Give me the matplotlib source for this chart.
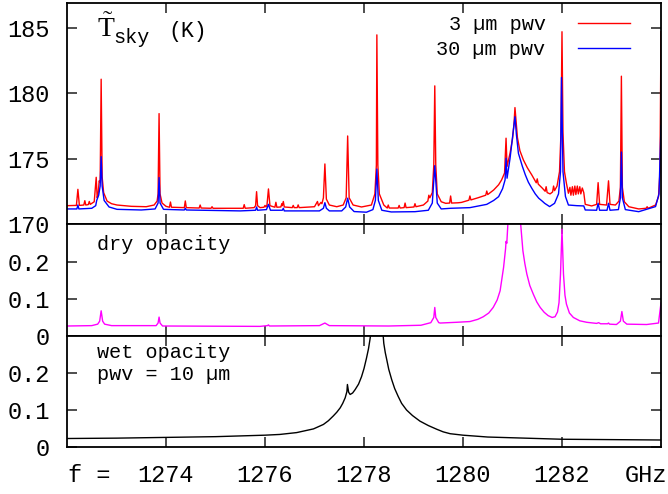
import numpy as np
from matplotlib import pyplot as plt

plt.rcParams['font.family'] = ['Liberation Mono', 'DejaVu Sans Mono']
plt.rcParams['mathtext.fontset'] = 'custom'
plt.rcParams['mathtext.rm'] = 'Liberation Serif'
plt.rcParams['mathtext.tt'] = 'Liberation Mono'

# sky brightness temperature, 3 um pwv (freq GHz, K)
sky_3um = [
    (1272.00, 171.40), (1272.19, 171.42), (1272.22, 172.65), (1272.25, 171.42),
    (1272.34, 171.45), (1272.36, 171.78), (1272.38, 171.45), (1272.43, 171.48),
    (1272.45, 171.72), (1272.47, 171.50), (1272.55, 171.70), (1272.59, 173.57),
    (1272.61, 172.00), (1272.63, 172.30), (1272.65, 173.30), (1272.67, 173.20),
    (1272.69, 181.07), (1272.71, 173.60), (1272.74, 172.40), (1272.81, 171.75),
    (1272.90, 171.55), (1273.01, 171.45), (1273.30, 171.35), (1273.60, 171.32),
    (1273.76, 171.45), (1273.82, 171.75), (1273.84, 172.30), (1273.86, 178.44),
    (1273.88, 172.30), (1273.92, 171.60), (1274.00, 171.35), (1274.07, 171.28),
    (1274.09, 171.68), (1274.11, 171.28), (1274.37, 171.25), (1274.39, 171.76),
    (1274.41, 171.25), (1274.67, 171.22), (1274.69, 171.45), (1274.71, 171.22),
    (1274.91, 171.20), (1274.93, 171.32), (1274.95, 171.20), (1275.56, 171.20),
    (1275.58, 171.48), (1275.60, 171.20), (1275.78, 171.25), (1275.81, 171.40),
    (1275.83, 172.47), (1275.85, 171.40), (1275.90, 171.25), (1275.98, 171.28),
    (1276.00, 171.42), (1276.02, 171.30), (1276.04, 171.45), (1276.07, 172.68),
    (1276.10, 171.40), (1276.20, 171.28), (1276.22, 171.66), (1276.24, 171.28),
    (1276.32, 171.30), (1276.34, 171.55), (1276.35, 171.40), (1276.37, 171.72),
    (1276.39, 171.30), (1276.55, 171.25), (1276.57, 171.42), (1276.59, 171.25),
    (1276.65, 171.25), (1276.67, 171.46), (1276.69, 171.25), (1277.00, 171.32),
    (1277.06, 171.72), (1277.08, 171.40), (1277.13, 171.65), (1277.15, 171.55),
    (1277.18, 172.00), (1277.21, 174.59), (1277.24, 171.90), (1277.30, 171.45),
    (1277.45, 171.32), (1277.58, 171.45), (1277.64, 172.00), (1277.67, 176.73),
    (1277.70, 172.00), (1277.78, 171.45), (1277.95, 171.30), (1278.15, 171.45),
    (1278.22, 172.30), (1278.25, 174.50), (1278.26, 184.46), (1278.28, 174.50),
    (1278.31, 172.30), (1278.40, 171.45), (1278.47, 171.22), (1278.49, 171.45),
    (1278.51, 171.22), (1278.69, 171.22), (1278.71, 171.42), (1278.73, 171.22),
    (1278.81, 171.25), (1278.83, 171.60), (1278.85, 171.25), (1279.01, 171.30),
    (1279.03, 171.55), (1279.05, 171.32), (1279.20, 171.45), (1279.29, 171.75),
    (1279.31, 172.20), (1279.33, 172.00), (1279.38, 172.40), (1279.41, 174.50),
    (1279.43, 180.56), (1279.45, 174.50), (1279.48, 172.30), (1279.56, 171.70),
    (1279.65, 171.58), (1279.73, 171.60), (1279.75, 172.14), (1279.77, 171.60),
    (1279.90, 171.62), (1279.97, 171.65), (1280.12, 171.82), (1280.14, 172.14),
    (1280.16, 171.84), (1280.30, 172.00), (1280.46, 172.20), (1280.48, 172.52),
    (1280.50, 172.25), (1280.62, 172.60), (1280.72, 173.00), (1280.78, 173.37),
    (1280.84, 173.90), (1280.87, 176.56), (1280.89, 174.40), (1280.95, 175.40),
    (1281.00, 176.50), (1281.03, 177.60), (1281.05, 178.90), (1281.07, 178.00),
    (1281.10, 176.60), (1281.15, 175.60), (1281.22, 174.90), (1281.30, 174.30),
    (1281.39, 173.75), (1281.48, 173.15), (1281.50, 173.45), (1281.52, 173.05),
    (1281.60, 172.75), (1281.66, 172.50), (1281.68, 172.85), (1281.70, 172.40),
    (1281.76, 172.30), (1281.81, 172.45), (1281.83, 172.90), (1281.85, 172.55),
    (1281.90, 172.90), (1281.95, 174.00), (1281.98, 177.00), (1282.00, 184.70),
    (1282.02, 177.00), (1282.05, 174.00), (1282.09, 173.10), (1282.13, 172.35),
    (1282.16, 172.80), (1282.18, 172.20), (1282.21, 172.85), (1282.23, 172.20),
    (1282.26, 172.90), (1282.28, 172.25), (1282.31, 172.90), (1282.33, 172.30),
    (1282.36, 172.85), (1282.38, 172.30), (1282.41, 172.75), (1282.44, 172.40),
    (1282.47, 171.50), (1282.60, 171.38), (1282.70, 171.50), (1282.73, 173.16),
    (1282.76, 171.50), (1282.90, 171.45), (1282.94, 173.30), (1282.97, 171.50),
    (1283.08, 171.45), (1283.15, 171.75), (1283.18, 172.80), (1283.20, 181.30),
    (1283.22, 172.80), (1283.26, 171.70), (1283.35, 171.32), (1283.55, 171.15),
    (1283.70, 171.20), (1283.72, 171.32), (1283.74, 171.20), (1283.89, 171.45),
    (1283.95, 172.09), (1283.98, 174.00), (1284.00, 184.70),
]

# sky brightness temperature, 30 um pwv
sky_30um = [
    (1272.00, 171.15), (1272.20, 171.15), (1272.22, 171.45), (1272.24, 171.15),
    (1272.50, 171.20), (1272.58, 171.40), (1272.60, 171.80), (1272.64, 172.20),
    (1272.67, 172.90), (1272.69, 175.15), (1272.71, 172.90), (1272.75, 171.80),
    (1272.85, 171.30), (1273.01, 171.12), (1273.50, 171.07), (1273.78, 171.15),
    (1273.84, 171.60), (1273.86, 173.55), (1273.88, 171.60), (1273.95, 171.12),
    (1274.37, 171.07), (1274.39, 171.20), (1274.41, 171.07), (1275.50, 171.00),
    (1275.81, 171.05), (1275.83, 171.30), (1275.85, 171.05), (1276.03, 171.10),
    (1276.07, 171.50), (1276.11, 171.05), (1276.35, 171.05), (1276.37, 171.20),
    (1276.39, 171.00), (1277.10, 171.00), (1277.18, 171.20), (1277.21, 171.63),
    (1277.24, 171.20), (1277.30, 171.00), (1277.55, 171.00), (1277.63, 171.30),
    (1277.67, 171.97), (1277.71, 171.30), (1277.80, 170.95), (1278.05, 170.90),
    (1278.18, 171.10), (1278.23, 171.80), (1278.26, 174.20), (1278.29, 171.80),
    (1278.36, 171.05), (1278.55, 170.92), (1279.03, 170.94), (1279.30, 171.05),
    (1279.38, 171.60), (1279.43, 174.46), (1279.48, 171.60), (1279.56, 171.15),
    (1279.75, 171.20), (1280.14, 171.25), (1280.48, 171.50), (1280.62, 171.80),
    (1280.72, 172.09), (1280.80, 172.70), (1280.85, 173.37), (1280.87, 175.03),
    (1280.89, 173.50), (1280.95, 175.00), (1281.00, 176.60), (1281.03, 177.60),
    (1281.05, 178.20), (1281.08, 176.80), (1281.12, 175.40), (1281.20, 174.40),
    (1281.26, 173.75), (1281.32, 173.20), (1281.39, 172.73), (1281.46, 172.30),
    (1281.53, 171.97), (1281.60, 171.75), (1281.65, 171.58), (1281.75, 171.33),
    (1281.85, 171.58), (1281.93, 172.30), (1281.97, 174.00), (1281.99, 181.20),
    (1282.02, 174.00), (1282.07, 172.10), (1282.13, 171.45), (1282.30, 171.40),
    (1282.44, 171.38), (1282.47, 171.07), (1282.70, 171.05), (1282.73, 171.58),
    (1282.76, 171.05), (1282.91, 171.05), (1282.94, 171.58), (1282.97, 171.05),
    (1283.14, 171.10), (1283.18, 172.00), (1283.20, 175.50), (1283.22, 172.00),
    (1283.28, 171.10), (1283.55, 170.94), (1283.89, 171.33), (1283.96, 172.30),
    (1284.00, 177.50),
]

# dry opacity
dry_tau = [
    (1272.00, 0.027), (1272.50, 0.028), (1272.62, 0.032), (1272.66, 0.040),
    (1272.69, 0.068), (1272.72, 0.040), (1272.76, 0.032), (1272.90, 0.028),
    (1273.80, 0.028), (1273.84, 0.035), (1273.86, 0.051), (1273.88, 0.035),
    (1273.93, 0.027), (1275.90, 0.026), (1276.05, 0.028), (1276.07, 0.030),
    (1276.09, 0.027), (1277.10, 0.028), (1277.21, 0.035), (1277.30, 0.028),
    (1278.50, 0.027), (1279.15, 0.029), (1279.35, 0.036), (1279.41, 0.050),
    (1279.43, 0.077), (1279.45, 0.050), (1279.51, 0.036), (1279.54, 0.035),
    (1279.87, 0.037), (1280.14, 0.039), (1280.30, 0.045), (1280.41, 0.052),
    (1280.52, 0.062), (1280.61, 0.077), (1280.69, 0.097), (1280.75, 0.122),
    (1280.82, 0.185), (1280.86, 0.235), (1280.87, 0.255), (1280.885, 0.250),
    (1280.91, 0.310), (1281.05, 0.900), (1281.16, 0.310), (1281.21, 0.230),
    (1281.25, 0.195), (1281.29, 0.167), (1281.35, 0.136), (1281.42, 0.113),
    (1281.49, 0.092), (1281.56, 0.077), (1281.64, 0.064), (1281.72, 0.055),
    (1281.80, 0.050), (1281.86, 0.052), (1281.91, 0.065), (1281.94, 0.090),
    (1281.97, 0.167), (1282.00, 0.288), (1282.03, 0.167), (1282.06, 0.110),
    (1282.09, 0.086), (1282.15, 0.062), (1282.23, 0.050), (1282.36, 0.041),
    (1282.50, 0.037), (1282.70, 0.034), (1282.74, 0.036), (1282.78, 0.033),
    (1282.92, 0.033), (1282.94, 0.035), (1282.96, 0.032), (1283.10, 0.031),
    (1283.18, 0.040), (1283.21, 0.066), (1283.24, 0.040), (1283.31, 0.032),
    (1283.71, 0.031), (1283.95, 0.035), (1284.00, 0.089),
]

# wet opacity, pwv = 10 um
wet_tau = [
    (1272.00, 0.023), (1273.00, 0.024), (1274.00, 0.026), (1275.00, 0.028),
    (1275.50, 0.030), (1276.00, 0.032), (1276.30, 0.034), (1276.64, 0.039),
    (1276.98, 0.049), (1277.18, 0.061), (1277.28, 0.071), (1277.38, 0.084),
    (1277.45, 0.094), (1277.52, 0.106), (1277.57, 0.118), (1277.62, 0.133),
    (1277.655, 0.150), (1277.665, 0.169), (1277.69, 0.148), (1277.72, 0.142),
    (1277.77, 0.146), (1277.82, 0.155), (1277.89, 0.170), (1277.95, 0.190),
    (1278.00, 0.212), (1278.05, 0.240), (1278.09, 0.265), (1278.12, 0.290),
    (1278.16, 0.330), (1278.22, 0.600), (1278.26, 1.000), (1278.32, 0.600),
    (1278.37, 0.330), (1278.40, 0.280), (1278.43, 0.255), (1278.46, 0.236),
    (1278.50, 0.210), (1278.56, 0.182), (1278.62, 0.158), (1278.69, 0.137),
    (1278.76, 0.118), (1278.86, 0.100), (1278.98, 0.085), (1279.13, 0.070),
    (1279.30, 0.058), (1279.47, 0.048), (1279.60, 0.041), (1279.74, 0.036),
    (1280.00, 0.032), (1280.50, 0.027), (1281.00, 0.025), (1281.50, 0.023),
    (1282.00, 0.021), (1283.00, 0.020), (1284.00, 0.019),
]

freq_ticks = [1274, 1276, 1278, 1280, 1282]
sky_ticks = [170, 175, 180, 185]
tau_ticks = [0, 0.1, 0.2]
tau_labels = ['0', '0.1', '0.2']

tick_fs = 17
text_fs = 14.5


def style_axis(ax):
    for s in ax.spines.values():
        s.set_linewidth(1.3)
    ax.tick_params(direction='in', length=7.5, width=1.3, color='#404040',
                   top=True, right=True, labelsize=tick_fs, pad=12.5)
    ax.set_xlim(1272, 1284)
    ax.set_xticks(freq_ticks)


fig = plt.figure(figsize=(6.68, 4.94), dpi=100)
ax1 = fig.add_axes([0.1003, 0.5466, 0.8892, 0.4474])
ax2 = fig.add_axes([0.1003, 0.3198, 0.8892, 0.2268])
ax3 = fig.add_axes([0.1003, 0.0951, 0.8892, 0.2247])

f, t = np.array(sky_3um).T
ax1.plot(f, t, color='#ff0000', lw=1.0, label='3 µm pwv')
f, t = np.array(sky_30um).T
ax1.plot(f, t, color='#0000ff', lw=1.0, label='30 µm pwv')
style_axis(ax1)
ax1.set_ylim(170, 186.9)
ax1.set_yticks(sky_ticks)
ax1.set_xticklabels([])
ax1.text(0.0505, 0.8475, r'$\tilde{\mathrm{T}}$', fontsize=20,
         transform=ax1.transAxes, va='baseline')
ax1.text(0.0774, 0.819, 'sky', fontsize=text_fs, transform=ax1.transAxes,
         va='baseline')
ax1.text(0.170, 0.845, '(K)', fontsize=text_fs + 1, transform=ax1.transAxes,
         va='baseline')
ax1.legend(loc='upper right', bbox_to_anchor=(0.948, 0.945), frameon=False,
           markerfirst=False, handlelength=2.6, handletextpad=1.6,
           fontsize=text_fs, borderpad=0, borderaxespad=0, labelspacing=0.3)

f, t = np.array(dry_tau).T
ax2.plot(f, t, color='#ff00ff', lw=1.0)
style_axis(ax2)
ax2.set_ylim(0, 0.302)
ax2.set_yticks(tau_ticks)
ax2.set_yticklabels(tau_labels)
ax2.set_xticklabels([])
ax2.text(0.05, 0.768, 'dry opacity', fontsize=text_fs, transform=ax2.transAxes,
         va='baseline')

f, t = np.array(wet_tau).T
ax3.plot(f, t, color='black', lw=1.0)
style_axis(ax3)
ax3.set_ylim(0, 0.3)
ax3.set_yticks(tau_ticks)
ax3.set_yticklabels(tau_labels)
ax3.set_xticklabels([str(v) for v in freq_ticks])
ax3.text(0.05, 0.799, 'wet opacity', fontsize=text_fs, transform=ax3.transAxes,
         va='baseline')
ax3.text(0.05, 0.604, 'pwv = 10 µm', fontsize=text_fs, transform=ax3.transAxes,
         va='baseline')

fig.text(0.1018, 0.0249, 'f =', fontsize=tick_fs, va='baseline', ha='left')
fig.text(0.9985, 0.0249, 'GHz', fontsize=tick_fs, va='baseline', ha='right')

plt.savefig('out.png', dpi=100)
plt.close()
